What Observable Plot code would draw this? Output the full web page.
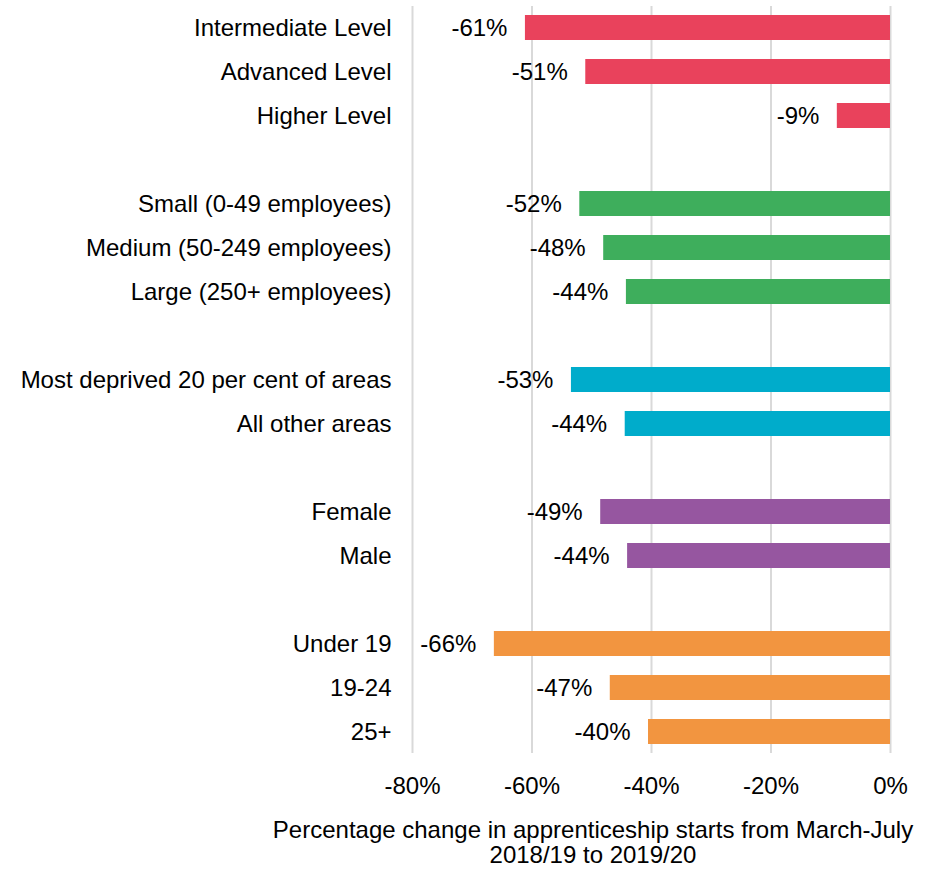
<!DOCTYPE html>
<html>
<head>
<meta charset="utf-8">
<script src="https://cdn.jsdelivr.net/npm/d3@7"></script>
<script src="https://cdn.jsdelivr.net/npm/@observablehq/plot@0.6"></script>
<style>
  html, body { margin: 0; padding: 0; background: #fff; }
  #chart { width: 933px; }
  .caption {
    font-family: "Liberation Sans", Arial, sans-serif;
    font-size: 24px;
    line-height: 25px;
    color: #000;
    text-align: center;
    width: 800px;
    margin-left: 193px;
    margin-top: 17px;
  }
</style>
</head>
<body>
<div id="chart"></div>
<script>
// Categories in display order; blank entries are spacer rows between groups
const categories = [
  "Intermediate Level", "Advanced Level", "Higher Level", " ",
  "Small (0-49 employees)", "Medium (50-249 employees)", "Large (250+ employees)", "  ",
  "Most deprived 20 per cent of areas", "All other areas", "   ",
  "Female", "Male", "    ",
  "Under 19", "19-24", "25+"
];
const barCategories = [
  "Intermediate Level", "Advanced Level", "Higher Level",
  "Small (0-49 employees)", "Medium (50-249 employees)", "Large (250+ employees)",
  "Most deprived 20 per cent of areas", "All other areas",
  "Female", "Male",
  "Under 19", "19-24", "25+"
];
const values = [-61.1, -51.0, -8.9, -52.0, -48.0, -44.2, -53.4, -44.4, -48.5, -44.0, -66.3, -46.9, -40.5];
const labels = ["-61%", "-51%", "-9%", "-52%", "-48%", "-44%", "-53%", "-44%", "-49%", "-44%", "-66%", "-47%", "-40%"];
const groups = ["Level", "Level", "Level", "Size", "Size", "Size", "Area", "Area", "Sex", "Sex", "Age", "Age", "Age"];
const groupNames = ["Level", "Size", "Area", "Sex", "Age"];
const groupColors = ["#E9425C", "#3EAE5C", "#00ACCB", "#9656A0", "#F29540"];
const xTicks = [-80, -60, -40, -20, 0];
const xTitle = ["Percentage change in apprenticeship starts from March-July", "2018/19 to 2019/20"];

const data = barCategories.map((c, i) => ({category: c, value: values[i], label: labels[i], group: groups[i]}));

const plot = Plot.plot({
  width: 933,
  height: 800,
  marginLeft: 412,
  marginRight: 43,
  marginTop: 6,
  marginBottom: 47,
  style: {fontFamily: "'Liberation Sans', Arial, sans-serif", fontSize: "24px", color: "#000", background: "#fff"},
  x: {domain: [-80, 0], ticks: xTicks},
  y: {domain: categories, paddingInner: 0.43, paddingOuter: 0.2},
  color: {domain: groupNames, range: groupColors},
  marks: [
    Plot.gridX(xTicks, {stroke: "#d9d9d9", strokeOpacity: 1, strokeWidth: 2}),
    Plot.barX(data, {x1: 0, x2: "value", y: "category", fill: "group"}),
    Plot.text(data, {x: "value", y: "category", text: "label", textAnchor: "end", dx: -18, fill: "#000", fontSize: 24}),
    Plot.axisX({ticks: xTicks, tickSize: 0, tickPadding: 23, tickFormat: d => d + "%", fontSize: 24, label: null}),
    Plot.axisY({tickSize: 0, tickPadding: 21, fontSize: 24, label: null})
  ]
});
document.getElementById("chart").appendChild(plot);

const cap = document.createElement("div");
cap.className = "caption";
cap.innerHTML = xTitle.join("<br>");
document.getElementById("chart").appendChild(cap);
</script>
</body>
</html>
